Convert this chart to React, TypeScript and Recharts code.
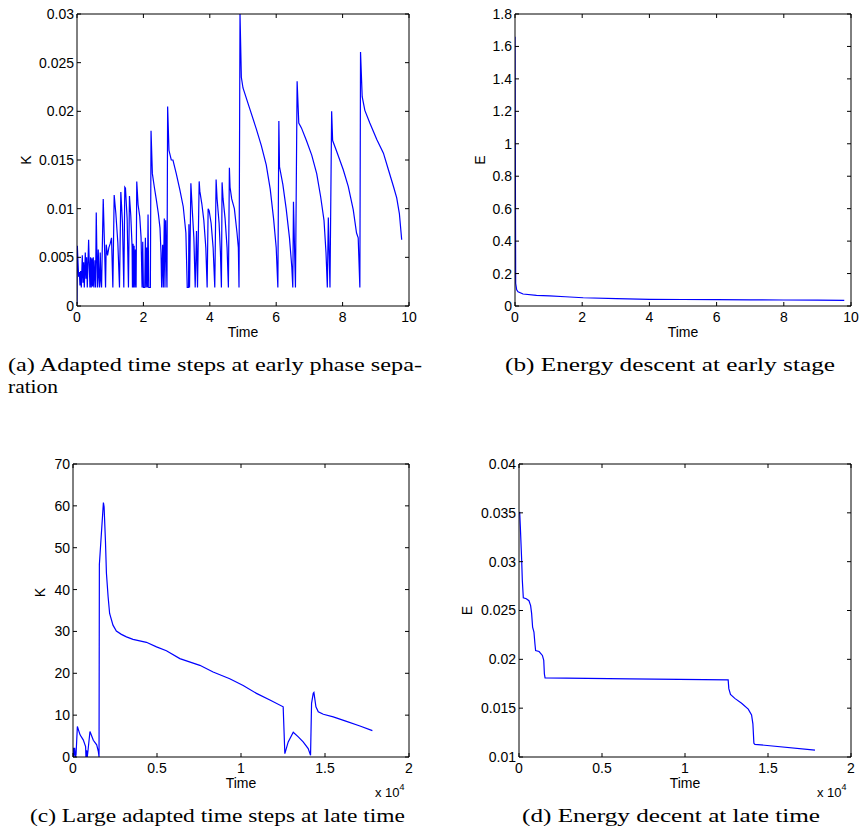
import React from 'react';
import { LineChart, Line, XAxis, YAxis } from 'recharts';

// (a) adapted time steps K, early phase separation
const aTime = [
  0, 0.01, 0.03, 0.05, 0.07, 0.09, 0.11, 0.13, 0.16, 0.18, 0.2, 0.22, 0.25, 0.27, 0.29, 0.31,
  0.35, 0.37, 0.39, 0.41, 0.43, 0.45, 0.47, 0.49, 0.51, 0.54, 0.56, 0.58, 0.6, 0.62, 0.64, 0.66,
  0.68, 0.7, 0.72, 0.74, 0.79, 0.83, 0.86, 0.88, 0.92, 0.96, 1.0, 1.04, 1.08, 1.12, 1.17, 1.23,
  1.28, 1.32, 1.37, 1.41, 1.44, 1.46, 1.51, 1.55, 1.58, 1.62, 1.66, 1.67, 1.69, 1.7, 1.72, 1.74,
  1.76, 1.78, 1.8, 1.84, 1.89, 1.93, 1.96, 1.98, 2.0, 2.04, 2.06, 2.08, 2.1, 2.12, 2.14, 2.16,
  2.21, 2.23, 2.27, 2.33, 2.39, 2.45, 2.5, 2.53, 2.55, 2.58, 2.6, 2.63, 2.65, 2.67, 2.71, 2.73,
  2.77, 2.84, 2.89, 2.99, 3.1, 3.2, 3.28, 3.32, 3.36, 3.37, 3.39, 3.43, 3.47, 3.52, 3.56, 3.6,
  3.63, 3.68, 3.7, 3.76, 3.82, 3.88, 3.92, 3.95, 3.98, 4.04, 4.1, 4.15, 4.19, 4.22, 4.28, 4.32,
  4.35, 4.37, 4.4, 4.46, 4.52, 4.56, 4.59, 4.61, 4.66, 4.74, 4.82, 4.86, 4.88, 4.91, 4.95, 5.0,
  5.2, 5.4, 5.55, 5.7, 5.82, 5.92, 6.0, 6.05, 6.08, 6.1, 6.2, 6.3, 6.4, 6.47, 6.5, 6.52,
  6.58, 6.63, 6.68, 6.76, 6.91, 7.07, 7.22, 7.34, 7.44, 7.5, 7.54, 7.57, 7.62, 7.67, 7.7, 7.82,
  8.02, 8.17, 8.32, 8.42, 8.47, 8.52, 8.54, 8.59, 8.67, 8.82, 9.03, 9.23, 9.38, 9.53, 9.63, 9.71,
  9.78,
];
const aK = [
  0.0002, 0.0062, 0.0045, 0.003, 0.0035, 0.0021, 0.0036, 0.0019, 0.0052, 0.0024, 0.0045, 0.0019, 0.0055, 0.0028, 0.005, 0.0019,
  0.0068, 0.0042, 0.0019, 0.005, 0.0019, 0.0049, 0.002, 0.005, 0.0019, 0.0047, 0.0019, 0.0096, 0.005, 0.0019, 0.0058, 0.003,
  0.0019, 0.0055, 0.0026, 0.0019, 0.011, 0.006, 0.0019, 0.0063, 0.0052, 0.006, 0.0064, 0.007, 0.0019, 0.0114, 0.0095, 0.0065,
  0.0019, 0.0117, 0.0085, 0.0019, 0.0122, 0.0121, 0.009, 0.0019, 0.0113, 0.0093, 0.006, 0.0019, 0.0064, 0.0019, 0.0062, 0.0019,
  0.0058, 0.0019, 0.0128, 0.0104, 0.0092, 0.007, 0.0019, 0.0066, 0.0019, 0.0019, 0.007, 0.0019, 0.006, 0.0019, 0.0094, 0.0019,
  0.0019, 0.018, 0.0136, 0.0122, 0.0109, 0.0095, 0.008, 0.0055, 0.0019, 0.0063, 0.0019, 0.009, 0.0019, 0.0088, 0.0019, 0.0205,
  0.016, 0.015, 0.015, 0.0136, 0.0119, 0.0102, 0.0075, 0.0019, 0.0019, 0.0084, 0.0019, 0.0126, 0.01, 0.007, 0.0019, 0.0077,
  0.0019, 0.0128, 0.0118, 0.0105, 0.0088, 0.006, 0.0019, 0.01, 0.0098, 0.0085, 0.006, 0.0019, 0.013, 0.011, 0.0085, 0.0055,
  0.0019, 0.0127, 0.011, 0.009, 0.006, 0.0019, 0.0142, 0.0122, 0.011, 0.01, 0.0075, 0.006, 0.0019, 0.03, 0.0235, 0.0224,
  0.0203, 0.0182, 0.0165, 0.0145, 0.012, 0.009, 0.006, 0.0019, 0.019, 0.0143, 0.0125, 0.01, 0.007, 0.004, 0.0019, 0.0107,
  0.0019, 0.0231, 0.0188, 0.0183, 0.017, 0.0155, 0.0136, 0.0112, 0.0088, 0.0055, 0.0019, 0.0091, 0.0019, 0.02, 0.017, 0.0159,
  0.014, 0.0123, 0.0099, 0.0075, 0.007, 0.0019, 0.0261, 0.0215, 0.0201, 0.0188, 0.0171, 0.0157, 0.014, 0.0123, 0.0111, 0.0095,
  0.0068,
];

// (b) energy, early stage
const bTime = [0, 0.02, 0.05, 0.09, 0.24, 0.64, 1.03, 1.5, 2.03, 3.02, 4, 5, 6, 7, 8, 9, 9.8];
const bE = [1.66, 0.14, 0.1, 0.088, 0.074, 0.066, 0.062, 0.057, 0.051, 0.045, 0.041, 0.04, 0.039, 0.038, 0.037, 0.036, 0.035];

// (c) large adapted time steps, late time (time in units of 1e4)
const cTime = [
  0, 0.002, 0.006, 0.01, 0.014, 0.018, 0.026, 0.042, 0.061, 0.075, 0.077, 0.081, 0.085, 0.09, 0.101, 0.121,
  0.141, 0.151, 0.155, 0.157, 0.181, 0.185, 0.193, 0.199, 0.209, 0.218, 0.238, 0.258, 0.288, 0.318, 0.357, 0.437,
  0.497, 0.556, 0.636, 0.755, 0.834, 0.933, 1.013, 1.092, 1.172, 1.251, 1.261, 1.281, 1.311, 1.341, 1.37, 1.4,
  1.414, 1.42, 1.43, 1.434, 1.446, 1.46, 1.49, 1.549, 1.628, 1.708, 1.782,
];
const cK = [
  0, 2.2, 0.3, 2.2, 0, 0.5, 7.3, 5.3, 4.1, 2.5, 0, 1.6, 0, 1.8, 6.1, 4.0,
  2.9, 1.3, 0, 46, 60.8, 59.8, 51.8, 43.9, 38.3, 34.3, 31.5, 30.1, 29.3, 28.7, 28.1, 27.4,
  26.3, 25.4, 23.5, 21.9, 20.3, 18.7, 17.1, 15.2, 13.6, 12.0, 0.8, 3.6, 5.9, 4.8, 3.6, 2.0,
  0.4, 12.8, 15.2, 15.4, 12.0, 10.8, 10.2, 9.6, 8.5, 7.4, 6.3,
];

// (d) energy, late time (time in units of 1e4)
const dTime = [
  0.004, 0.008, 0.016, 0.02, 0.026, 0.044, 0.06, 0.07, 0.076, 0.082, 0.09, 0.096, 0.1, 0.121, 0.141, 0.149,
  0.153, 0.157, 0.667, 1.26, 1.264, 1.274, 1.3, 1.341, 1.381, 1.401, 1.409, 1.415, 1.421, 1.783,
];
const dE = [
  0.0351, 0.0336, 0.0302, 0.0281, 0.0263, 0.0262, 0.026, 0.0255, 0.0247, 0.0233, 0.0228, 0.0216, 0.0209, 0.0208, 0.0204, 0.0199,
  0.0185, 0.0181, 0.018, 0.0179, 0.017, 0.0164, 0.016, 0.0155, 0.0149, 0.0143, 0.0134, 0.0114, 0.0113, 0.0107,
];

const earlyXTicks = [0, 2, 4, 6, 8, 10];
const lateXTicks = [0, 0.5, 1, 1.5, 2];
const aYTicks = [0, 0.005, 0.01, 0.015, 0.02, 0.025, 0.03];
const bYTicks = [0, 0.2, 0.4, 0.6, 0.8, 1, 1.2, 1.4, 1.6, 1.8];
const cYTicks = [0, 10, 20, 30, 40, 50, 60, 70];
const dYTicks = [0.01, 0.015, 0.02, 0.025, 0.03, 0.035, 0.04];

const captions = [
  { text: '(a) Adapted time steps at early phase sepa-', x: 8, y: 371, w: 414 },
  { text: 'ration', x: 8, y: 393, w: 50 },
  { text: '(b) Energy descent at early stage', x: 505, y: 371, w: 330 },
  { text: '(c) Large adapted time steps at late time', x: 30, y: 822, w: 375 },
  { text: '(d) Energy decent at late time', x: 522, y: 822, w: 298 },
];

const SANS = '"Liberation Sans", Arial, Helvetica, sans-serif';
const SERIF = '"Liberation Serif", "Times New Roman", serif';
const BLUE = '#0000ff';

const zip = (xs: number[], ys: number[]) => xs.map((t, i) => ({ t, v: ys[i] }));

const yLabel = (text: string, gap: number, dy: number) => (props: any) => {
  const vb = props.viewBox;
  const x = vb.x + vb.width - gap;
  const y = vb.y + vb.height / 2 + dy;
  return (
    <text x={x} y={y} transform={`rotate(-90 ${x} ${y})`} textAnchor="middle" dominantBaseline="central"
      fill="#000" stroke="none" fontSize={14} fontFamily={SANS}>{text}</text>
  );
};

const xLabel = (exponent: boolean) => (props: any) => {
  const vb = props.viewBox;
  return (
    <g>
      <text x={vb.x + vb.width / 2} y={vb.y + 31} textAnchor="middle" fill="#000" stroke="none"
        fontSize={14} fontFamily={SANS}>Time</text>
      {exponent && (
        <text x={vb.x + vb.width - 34} y={vb.y + 40} fill="#000" stroke="none" fontSize={13} fontFamily={SANS}>
          x 10<tspan dy={-7} fontSize={9}>4</tspan>
        </text>
      )}
    </g>
  );
};

// tick marks without labels (for the top and right edges of the box)
const noLabel = () => <g />;

type PanelProps = {
  left: number;
  top: number;
  height: number;
  plotLeft: number;
  plotTop: number;
  plotRight: number;
  data: { t: number; v: number }[];
  xDomain: [number, number];
  yDomain: [number, number];
  xTicks: number[];
  yTicks: number[];
  label: string;
  labelGap: number;
  labelDy?: number;
  exponent?: boolean;
};

const AXIS_H = 44;
const tickStyle = { fill: '#000', stroke: 'none', fontSize: 14, fontFamily: SANS };

const Panel = (p: PanelProps) => (
  <div style={{ position: 'absolute', left: p.left, top: p.top }}>
    <LineChart
      width={430}
      height={p.height}
      data={p.data}
      margin={{ top: p.plotTop - 1, right: 430 - p.plotRight - 1, left: 0, bottom: 0 }}
    >
      <XAxis
        dataKey="t" type="number" domain={p.xDomain} ticks={p.xTicks} interval={0} allowDataOverflow
        height={AXIS_H} tickSize={-4} tickMargin={10} tick={tickStyle} stroke="#000"
        label={xLabel(!!p.exponent)}
      />
      <XAxis
        xAxisId="top" orientation="top" dataKey="t" type="number" domain={p.xDomain} ticks={p.xTicks}
        interval={0} allowDataOverflow height={1} tickSize={-4} tick={noLabel} stroke="#000"
      />
      <YAxis
        type="number" domain={p.yDomain} ticks={p.yTicks} interval={0} allowDataOverflow
        width={p.plotLeft} tickSize={-4} tickMargin={7} tick={tickStyle} stroke="#000"
        label={yLabel(p.label, p.labelGap, p.labelDy || 0)}
      />
      <YAxis
        yAxisId="right" orientation="right" type="number" domain={p.yDomain} ticks={p.yTicks}
        interval={0} allowDataOverflow width={1} tickSize={-4} tick={noLabel} stroke="#000"
      />
      {/* same series on the top/right axes, not stroked: keeps those axes active */}
      <Line
        xAxisId="top" yAxisId="right" type="linear" dataKey="v" stroke="none" dot={false}
        activeDot={false} isAnimationActive={false}
      />
      <Line
        type="linear" dataKey="v" stroke={BLUE} strokeWidth={1.2} dot={false}
        activeDot={false} isAnimationActive={false}
      />
    </LineChart>
  </div>
);

export default function App() {
  return (
    <div style={{ position: 'absolute', left: 0, top: 0, width: 860, height: 833, background: '#fff' }}>
      <svg width={860} height={833} style={{ position: 'absolute', left: 0, top: 0 }}>
        {captions.map((c) => (
          <text key={c.text} x={c.x} y={c.y} fontSize={18} fontFamily={SERIF} fill="#000"
            textLength={c.w} lengthAdjust="spacingAndGlyphs">{c.text}</text>
        ))}
      </svg>
      <Panel left={0} top={0} height={306 + AXIS_H} plotLeft={77} plotTop={14} plotRight={409}
        data={zip(aTime, aK)} xDomain={[0, 10]} yDomain={[0, 0.03]} xTicks={earlyXTicks} yTicks={aYTicks}
        label="K" labelGap={51} />
      <Panel left={430} top={0} height={306 + AXIS_H} plotLeft={85} plotTop={14} plotRight={421}
        data={zip(bTime, bE)} xDomain={[0, 10]} yDomain={[0, 1.8]} xTicks={earlyXTicks} yTicks={bYTicks}
        label="E" labelGap={35} />
      <Panel left={0} top={450} height={307 + AXIS_H} plotLeft={73} plotTop={14} plotRight={409}
        data={zip(cTime, cK)} xDomain={[0, 2]} yDomain={[0, 70]} xTicks={lateXTicks} yTicks={cYTicks}
        label="K" labelGap={33} labelDy={-18} exponent />
      <Panel left={430} top={450} height={307 + AXIS_H} plotLeft={89} plotTop={14} plotRight={421}
        data={zip(dTime, dE)} xDomain={[0, 2]} yDomain={[0.01, 0.04]} xTicks={lateXTicks} yTicks={dYTicks}
        label="E" labelGap={52} exponent />
    </div>
  );
}
